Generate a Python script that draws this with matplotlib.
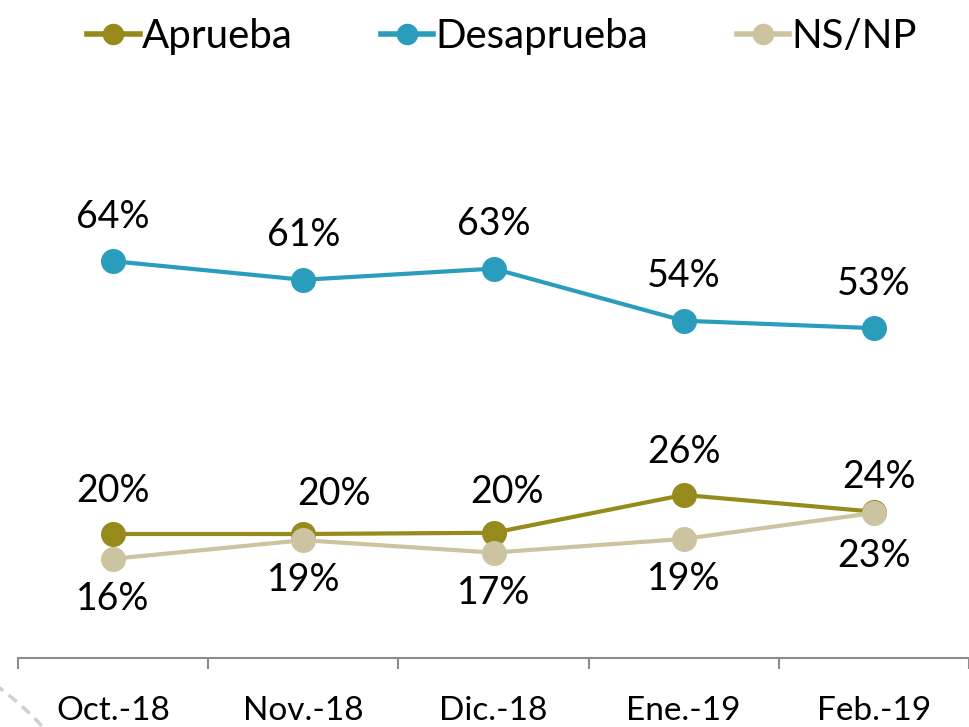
import matplotlib
matplotlib.use("Agg")
import matplotlib.pyplot as plt
from matplotlib.patches import Circle

plt.rcParams['font.family'] = ['Lato', 'DejaVu Sans']

# data
months = ['Oct.-18', 'Nov.-18', 'Dic.-18', 'Ene.-19', 'Feb.-19']
aprueba = [20, 20, 20.2, 26.3, 23.6]
desaprueba = [64, 61, 62.8, 54.4, 53.2]
nsnp = [16, 19, 17, 19.2, 23.4]

aprueba_lbl = ['20%', '20%', '20%', '26%', '24%']
desaprueba_lbl = ['64%', '61%', '63%', '54%', '53%']
nsnp_lbl = ['16%', '19%', '17%', '19%', '23%']

colors = {
    'Aprueba': '#958A1B',      # olive
    'Desaprueba': '#2A9CBC',   # teal blue
    'NS/NP': '#CCC4A1',        # beige
}

fig = plt.figure(figsize=(9.69, 7.27), dpi=100)
ax = fig.add_axes([18 / 969, 69 / 727, 951 / 969, 620 / 727])

x = range(len(months))
# label offsets in points (dx, dy)
series = [
    ('Aprueba', aprueba, aprueba_lbl, [(0, 31), (22, 29), (10, 29), (0, 31), (4, 25)]),
    ('Desaprueba', desaprueba, desaprueba_lbl, [(0, 32)] * 5),
    ('NS/NP', nsnp, nsnp_lbl, [(0, -29)] * 4 + [(0, -31)]),
]
for name, vals, lbls, offs in series:
    ax.plot(x, vals, color=colors[name], lw=3.0, marker='o', markersize=17,
            label=name, zorder=3 if name != 'NS/NP' else 4)
    for xi, v, t, off in zip(x, vals, lbls, offs):
        ax.annotate(t, (xi, v), xytext=off, textcoords='offset points',
                    ha='center', va='center', fontsize=27, color='black')

ax.set_xlim(-0.5, 4.5)
ax.set_ylim(0, 100)
ax.set_yticks([])
for s in ['top', 'right', 'left']:
    ax.spines[s].set_visible(False)
ax.spines['bottom'].set_color('#8C8C8C')
ax.spines['bottom'].set_linewidth(1.5)

ax.set_xticks(list(x))
ax.set_xticklabels(months, fontsize=24)
ax.tick_params(axis='x', which='major', length=0, pad=27)
ax.set_xticks([i - 0.5 for i in range(len(months) + 1)], minor=True)
ax.tick_params(axis='x', which='minor', length=8, width=1.5, color='#8C8C8C')

leg = fig.legend(loc='upper center', bbox_to_anchor=(0.518, 1.025), ncol=3,
                 frameon=False, fontsize=29, handlelength=1.3, markerscale=0.85,
                 columnspacing=2.2, handletextpad=0.05)
for h in leg.legend_handles:
    h.set_linewidth(4)

# decorative dashed arc, bottom-left corner
arc = Circle((-1.79, -2.02), 3.0, transform=fig.dpi_scale_trans, fill=False,
             ls=(0, (3, 2)), lw=2.5, color='#CFCFCF', clip_on=False)
fig.patches.append(arc)

fig.savefig('out.png', dpi=100)
